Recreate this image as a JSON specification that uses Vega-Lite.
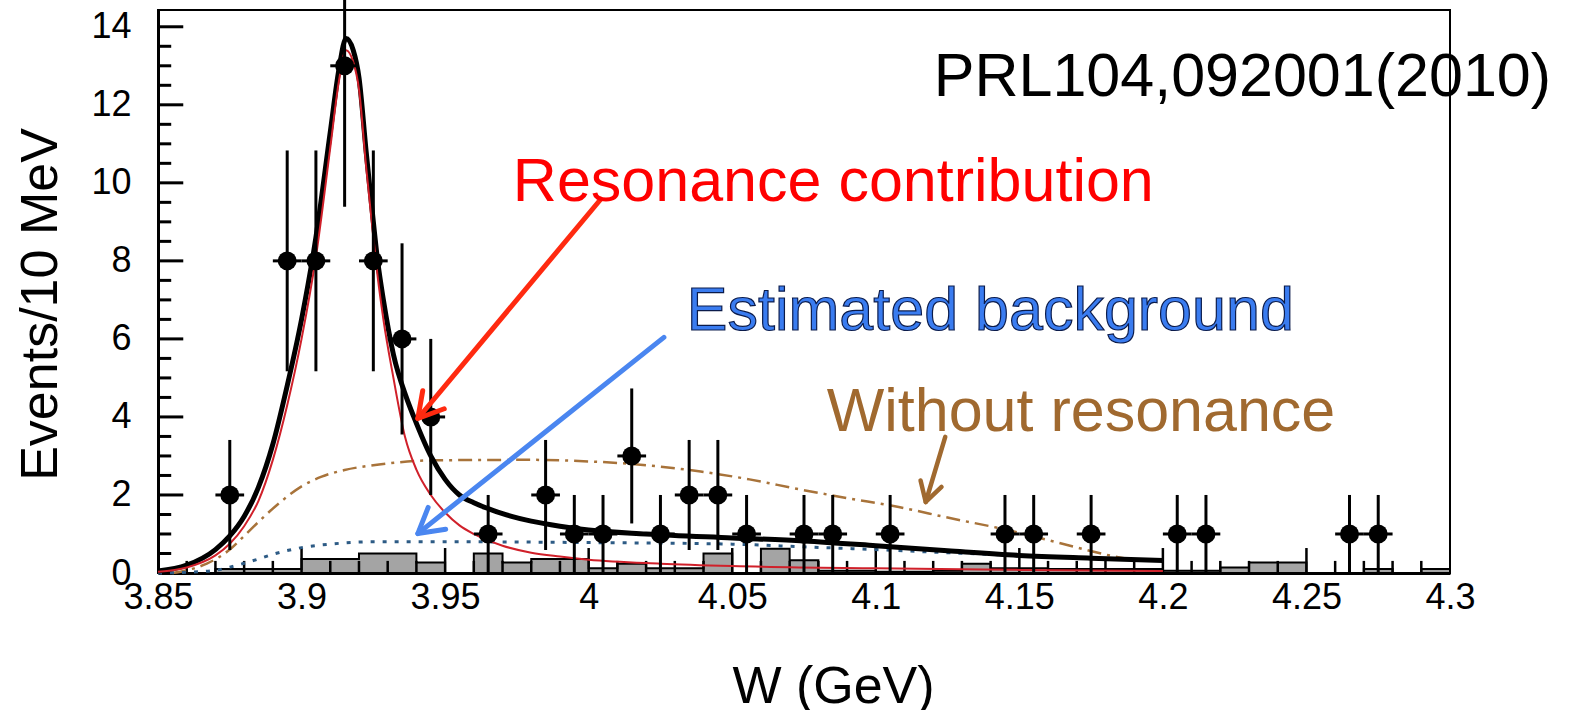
{
 "$schema": "https://vega.github.io/schema/vega-lite/v6.json",
 "width": 1292, "height": 563,
 "autosize": {"type": "none"},
 "padding": {"left": 158, "top": 10, "right": 128, "bottom": 137},
 "background": "white",
 "config": {"view": {"stroke": "black", "strokeWidth": 2}, "font": "Liberation Sans"},
 "datasets": {
  "hist": [
   {"W":3.85,"n":0},{"W":3.86,"n":0},{"W":3.87,"n":0.1},{"W":3.88,"n":0.1},{"W":3.89,"n":0.1},
   {"W":3.90,"n":0.36},{"W":3.91,"n":0.36},{"W":3.92,"n":0.5},{"W":3.93,"n":0.5},{"W":3.94,"n":0.27},
   {"W":3.95,"n":0},{"W":3.96,"n":0.5},{"W":3.97,"n":0.27},{"W":3.98,"n":0.36},{"W":3.99,"n":0.36},
   {"W":4.00,"n":0.12},{"W":4.01,"n":0.24},{"W":4.02,"n":0.12},{"W":4.03,"n":0.12},{"W":4.04,"n":0.5},
   {"W":4.05,"n":0},{"W":4.06,"n":0.62},{"W":4.07,"n":0.33},{"W":4.08,"n":0.06},{"W":4.09,"n":0.06},
   {"W":4.10,"n":0.03},{"W":4.11,"n":0.03},{"W":4.12,"n":0.06},{"W":4.13,"n":0.24},{"W":4.14,"n":0.12},
   {"W":4.15,"n":0.12},{"W":4.16,"n":0.1},{"W":4.17,"n":0.1},{"W":4.18,"n":0.1},{"W":4.19,"n":0.1},
   {"W":4.20,"n":0.06},{"W":4.21,"n":0.06},{"W":4.22,"n":0.14},{"W":4.23,"n":0.27},{"W":4.24,"n":0.27},
   {"W":4.25,"n":0},{"W":4.26,"n":0},{"W":4.27,"n":0.1},{"W":4.28,"n":0},{"W":4.29,"n":0.1},{"W":4.30,"n":0.1}
  ],
  "xticks": [
   {"W":3.86,"b":0,"h":0.31},{"W":3.87,"b":0,"h":0.31},{"W":3.88,"b":0,"h":0.31},{"W":3.89,"b":0,"h":0.31},{"W":3.9,"b":0,"h":0.64},
   {"W":3.91,"b":0,"h":0.31},{"W":3.92,"b":0,"h":0.31},{"W":3.93,"b":0,"h":0.31},{"W":3.94,"b":0,"h":0.31},{"W":3.95,"b":0,"h":0.64},
   {"W":3.96,"b":0,"h":0.31},{"W":3.97,"b":0,"h":0.31},{"W":3.98,"b":0,"h":0.31},{"W":3.99,"b":0,"h":0.31},{"W":4.0,"b":0,"h":0.64},
   {"W":4.01,"b":0,"h":0.31},{"W":4.02,"b":0,"h":0.31},{"W":4.03,"b":0,"h":0.31},{"W":4.04,"b":0,"h":0.31},{"W":4.05,"b":0,"h":0.64},
   {"W":4.06,"b":0,"h":0.31},{"W":4.07,"b":0,"h":0.31},{"W":4.08,"b":0,"h":0.31},{"W":4.09,"b":0,"h":0.31},{"W":4.1,"b":0,"h":0.64},
   {"W":4.11,"b":0,"h":0.31},{"W":4.12,"b":0,"h":0.31},{"W":4.13,"b":0,"h":0.31},{"W":4.14,"b":0,"h":0.31},{"W":4.15,"b":0,"h":0.64},
   {"W":4.16,"b":0,"h":0.31},{"W":4.17,"b":0,"h":0.31},{"W":4.18,"b":0,"h":0.31},{"W":4.19,"b":0,"h":0.31},{"W":4.2,"b":0,"h":0.64},
   {"W":4.21,"b":0,"h":0.31},{"W":4.22,"b":0,"h":0.31},{"W":4.23,"b":0,"h":0.31},{"W":4.24,"b":0,"h":0.31},{"W":4.25,"b":0,"h":0.64},
   {"W":4.26,"b":0,"h":0.31},{"W":4.27,"b":0,"h":0.31},{"W":4.28,"b":0,"h":0.31},{"W":4.29,"b":0,"h":0.31}
  ],
  "yticks": [
   {"n":0.5,"wlo":3.8503,"whi":3.8546},{"n":1,"wlo":3.8503,"whi":3.8546},{"n":1.5,"wlo":3.8503,"whi":3.8546},{"n":2,"wlo":3.8503,"whi":3.8588},
   {"n":2.5,"wlo":3.8503,"whi":3.8546},{"n":3,"wlo":3.8503,"whi":3.8546},{"n":3.5,"wlo":3.8503,"whi":3.8546},{"n":4,"wlo":3.8503,"whi":3.8588},
   {"n":4.5,"wlo":3.8503,"whi":3.8546},{"n":5,"wlo":3.8503,"whi":3.8546},{"n":5.5,"wlo":3.8503,"whi":3.8546},{"n":6,"wlo":3.8503,"whi":3.8588},
   {"n":6.5,"wlo":3.8503,"whi":3.8546},{"n":7,"wlo":3.8503,"whi":3.8546},{"n":7.5,"wlo":3.8503,"whi":3.8546},{"n":8,"wlo":3.8503,"whi":3.8588},
   {"n":8.5,"wlo":3.8503,"whi":3.8546},{"n":9,"wlo":3.8503,"whi":3.8546},{"n":9.5,"wlo":3.8503,"whi":3.8546},{"n":10,"wlo":3.8503,"whi":3.8588},
   {"n":10.5,"wlo":3.8503,"whi":3.8546},{"n":11,"wlo":3.8503,"whi":3.8546},{"n":11.5,"wlo":3.8503,"whi":3.8546},{"n":12,"wlo":3.8503,"whi":3.8588},
   {"n":12.5,"wlo":3.8503,"whi":3.8546},{"n":13,"wlo":3.8503,"whi":3.8546},{"n":13.5,"wlo":3.8503,"whi":3.8546},{"n":14,"wlo":3.8503,"whi":3.8588}
  ],
  "curves": [
   {"c":"wo","W":3.855,"y":0.0},{"c":"wo","W":3.86,"y":0.07},{"c":"wo","W":3.867,"y":0.24},{"c":"wo","W":3.875,"y":0.6},
   {"c":"wo","W":3.88,"y":0.95},{"c":"wo","W":3.887,"y":1.45},{"c":"wo","W":3.894,"y":1.9},{"c":"wo","W":3.9,"y":2.22},
   {"c":"wo","W":3.907,"y":2.47},{"c":"wo","W":3.915,"y":2.64},{"c":"wo","W":3.927,"y":2.78},{"c":"wo","W":3.947,"y":2.89},
   {"c":"wo","W":3.98,"y":2.9},{"c":"wo","W":4.0,"y":2.86},{"c":"wo","W":4.014,"y":2.8},{"c":"wo","W":4.039,"y":2.6},
   {"c":"wo","W":4.056,"y":2.4},{"c":"wo","W":4.073,"y":2.15},{"c":"wo","W":4.09,"y":1.92},{"c":"wo","W":4.108,"y":1.69},
   {"c":"wo","W":4.125,"y":1.42},{"c":"wo","W":4.146,"y":1.1},{"c":"wo","W":4.165,"y":0.75},{"c":"wo","W":4.184,"y":0.41},
   {"c":"wo","W":4.19,"y":0.33},
   {"c":"bkg","W":3.85,"y":0.0},{"c":"bkg","W":3.86,"y":0.02},{"c":"bkg","W":3.87,"y":0.07},{"c":"bkg","W":3.875,"y":0.15},
   {"c":"bkg","W":3.88,"y":0.25},{"c":"bkg","W":3.885,"y":0.36},{"c":"bkg","W":3.89,"y":0.48},{"c":"bkg","W":3.9,"y":0.65},
   {"c":"bkg","W":3.91,"y":0.74},{"c":"bkg","W":3.925,"y":0.8},{"c":"bkg","W":3.95,"y":0.8},{"c":"bkg","W":4.0,"y":0.78},
   {"c":"bkg","W":4.05,"y":0.74},{"c":"bkg","W":4.075,"y":0.67},{"c":"bkg","W":4.1,"y":0.6},{"c":"bkg","W":4.125,"y":0.52},
   {"c":"bkg","W":4.15,"y":0.45},{"c":"bkg","W":4.175,"y":0.38},{"c":"bkg","W":4.2,"y":0.32},
   {"c":"tot","W":3.85,"y":0.05},{"c":"tot","W":3.86,"y":0.2},{"c":"tot","W":3.87,"y":0.6},{"c":"tot","W":3.875,"y":0.95},
   {"c":"tot","W":3.88,"y":1.45},{"c":"tot","W":3.885,"y":2.2},{"c":"tot","W":3.89,"y":3.3},{"c":"tot","W":3.895,"y":4.8},
   {"c":"tot","W":3.9,"y":6.5},{"c":"tot","W":3.905,"y":8.6},{"c":"tot","W":3.91,"y":11.3},{"c":"tot","W":3.913,"y":12.9},
   {"c":"tot","W":3.9155,"y":13.7},{"c":"tot","W":3.918,"y":13.4},{"c":"tot","W":3.92,"y":12.7},{"c":"tot","W":3.9225,"y":10.8},
   {"c":"tot","W":3.925,"y":9.0},{"c":"tot","W":3.9265,"y":8.0},{"c":"tot","W":3.9285,"y":7.0},{"c":"tot","W":3.932,"y":5.6},
   {"c":"tot","W":3.9365,"y":4.5},{"c":"tot","W":3.9391,"y":4.0},{"c":"tot","W":3.945,"y":3.0},{"c":"tot","W":3.95,"y":2.4},
   {"c":"tot","W":3.955,"y":2.0},{"c":"tot","W":3.96,"y":1.8},{"c":"tot","W":3.965,"y":1.65},{"c":"tot","W":3.97,"y":1.52},
   {"c":"tot","W":3.98,"y":1.33},{"c":"tot","W":3.99,"y":1.2},{"c":"tot","W":4.0,"y":1.1},{"c":"tot","W":4.02,"y":1.0},
   {"c":"tot","W":4.05,"y":0.9},{"c":"tot","W":4.075,"y":0.82},{"c":"tot","W":4.1,"y":0.7},{"c":"tot","W":4.125,"y":0.57},
   {"c":"tot","W":4.15,"y":0.45},{"c":"tot","W":4.175,"y":0.38},{"c":"tot","W":4.2,"y":0.32},
   {"c":"res","W":3.85,"y":0.03},{"c":"res","W":3.86,"y":0.14},{"c":"res","W":3.87,"y":0.45},{"c":"res","W":3.875,"y":0.75},
   {"c":"res","W":3.88,"y":1.2},{"c":"res","W":3.885,"y":1.85},{"c":"res","W":3.89,"y":2.9},{"c":"res","W":3.895,"y":4.3},
   {"c":"res","W":3.9,"y":6.0},{"c":"res","W":3.905,"y":8.1},{"c":"res","W":3.91,"y":10.9},{"c":"res","W":3.913,"y":12.6},
   {"c":"res","W":3.9155,"y":13.4},{"c":"res","W":3.918,"y":13.1},{"c":"res","W":3.92,"y":12.4},{"c":"res","W":3.9225,"y":10.4},
   {"c":"res","W":3.925,"y":8.6},{"c":"res","W":3.9265,"y":7.6},{"c":"res","W":3.9285,"y":6.5},{"c":"res","W":3.932,"y":5.0},
   {"c":"res","W":3.936,"y":3.5},{"c":"res","W":3.94,"y":2.65},{"c":"res","W":3.945,"y":2.0},{"c":"res","W":3.95,"y":1.55},
   {"c":"res","W":3.955,"y":1.22},{"c":"res","W":3.96,"y":1.0},{"c":"res","W":3.97,"y":0.7},{"c":"res","W":3.98,"y":0.52},
   {"c":"res","W":3.99,"y":0.42},{"c":"res","W":4.0,"y":0.34},{"c":"res","W":4.025,"y":0.24},{"c":"res","W":4.05,"y":0.18},
   {"c":"res","W":4.1,"y":0.12},{"c":"res","W":4.15,"y":0.08},{"c":"res","W":4.2,"y":0.05}
  ],
  "pts": [
   {"W":3.875,"n":2,"lo":0.59,"hi":3.41,"wlo":3.87,"whi":3.88},
   {"W":3.895,"n":8,"lo":5.17,"hi":10.83,"wlo":3.89,"whi":3.90},
   {"W":3.905,"n":8,"lo":5.17,"hi":10.83,"wlo":3.90,"whi":3.91},
   {"W":3.915,"n":13,"lo":9.39,"hi":16.61,"wlo":3.91,"whi":3.92},
   {"W":3.925,"n":8,"lo":5.17,"hi":10.83,"wlo":3.92,"whi":3.93},
   {"W":3.935,"n":6,"lo":3.55,"hi":8.45,"wlo":3.93,"whi":3.94},
   {"W":3.945,"n":4,"lo":2,"hi":6,"wlo":3.94,"whi":3.95},
   {"W":3.965,"n":1,"lo":0,"hi":2,"wlo":3.96,"whi":3.97},
   {"W":3.985,"n":2,"lo":0.59,"hi":3.41,"wlo":3.98,"whi":3.99},
   {"W":3.995,"n":1,"lo":0,"hi":2,"wlo":3.99,"whi":4.00},
   {"W":4.005,"n":1,"lo":0,"hi":2,"wlo":4.00,"whi":4.01},
   {"W":4.015,"n":3,"lo":1.27,"hi":4.73,"wlo":4.01,"whi":4.02},
   {"W":4.025,"n":1,"lo":0,"hi":2,"wlo":4.02,"whi":4.03},
   {"W":4.035,"n":2,"lo":0.59,"hi":3.41,"wlo":4.03,"whi":4.04},
   {"W":4.045,"n":2,"lo":0.59,"hi":3.41,"wlo":4.04,"whi":4.05},
   {"W":4.055,"n":1,"lo":0,"hi":2,"wlo":4.05,"whi":4.06},
   {"W":4.075,"n":1,"lo":0,"hi":2,"wlo":4.07,"whi":4.08},
   {"W":4.085,"n":1,"lo":0,"hi":2,"wlo":4.08,"whi":4.09},
   {"W":4.105,"n":1,"lo":0,"hi":2,"wlo":4.10,"whi":4.11},
   {"W":4.145,"n":1,"lo":0,"hi":2,"wlo":4.14,"whi":4.15},
   {"W":4.155,"n":1,"lo":0,"hi":2,"wlo":4.15,"whi":4.16},
   {"W":4.175,"n":1,"lo":0,"hi":2,"wlo":4.17,"whi":4.18},
   {"W":4.205,"n":1,"lo":0,"hi":2,"wlo":4.20,"whi":4.21},
   {"W":4.215,"n":1,"lo":0,"hi":2,"wlo":4.21,"whi":4.22},
   {"W":4.265,"n":1,"lo":0,"hi":2,"wlo":4.26,"whi":4.27},
   {"W":4.275,"n":1,"lo":0,"hi":2,"wlo":4.27,"whi":4.28}
  ],
  "arrows": [
   {"a":"res","s":"shaft","i":0,"W":4.0042,"y":9.58},{"a":"res","s":"shaft","i":1,"W":3.9405,"y":3.96},
   {"a":"res","s":"head","i":0,"W":3.9497,"y":4.21},{"a":"res","s":"head","i":1,"W":3.9405,"y":3.96},{"a":"res","s":"head","i":2,"W":3.9422,"y":4.67},
   {"a":"bkg","s":"shaft","i":0,"W":4.0262,"y":6.04},{"a":"bkg","s":"shaft","i":1,"W":3.9405,"y":1.01},
   {"a":"bkg","s":"head","i":0,"W":3.9502,"y":1.12},{"a":"bkg","s":"head","i":1,"W":3.9405,"y":1.01},{"a":"bkg","s":"head","i":2,"W":3.9441,"y":1.68},
   {"a":"wo","s":"shaft","i":0,"W":4.1242,"y":3.49},{"a":"wo","s":"shaft","i":1,"W":4.1174,"y":1.82},
   {"a":"wo","s":"head","i":0,"W":4.1229,"y":2.205},{"a":"wo","s":"head","i":1,"W":4.1174,"y":1.82},{"a":"wo","s":"head","i":2,"W":4.1156,"y":2.37}
  ],
  "labels": [
   {"k":"prl","t":"PRL104,092001(2010)","W":4.1202,"y":12.22},
   {"k":"res","t":"Resonance contribution","W":3.9736,"y":9.53},
   {"k":"bkg","t":"Estimated background","W":4.0342,"y":6.22},
   {"k":"wo","t":"Without resonance","W":4.0829,"y":3.63}
  ]
 },
 "layer": [
  {
   "data": {"name": "hist"},
   "mark": {"type": "area", "interpolate": "step-after", "fill": "#a4a4a4", "stroke": "black", "strokeWidth": 2},
   "encoding": {
    "x": {"field": "W", "type": "quantitative",
     "scale": {"domain": [3.85, 4.3], "nice": false, "zero": false},
     "axis": {
      "orient": "bottom",
      "values": [3.85,3.9,3.95,4.0,4.05,4.1,4.15,4.2,4.25,4.3],
      "format": "~g",
      "title": "W (GeV)",
      "titleFont": "Liberation Sans", "titleFontSize": 52, "titleFontWeight": "normal", "titleColor": "black",
      "titleX": 675, "titleY": 129, "titleAlign": "center", "titleBaseline": "alphabetic", "titleAngle": 0,
      "grid": false, "domainColor": "black", "domainWidth": 3,
      "ticks": false,
      "labelFont": "Liberation Sans", "labelFontSize": 36, "labelColor": "black",
      "labelPadding": 7, "labelOverlap": false, "labelFlush": false, "labelBound": false
     }
    },
    "y": {"field": "n", "type": "quantitative",
     "scale": {"domain": [0, 14.43], "nice": false},
     "axis": {
      "orient": "left",
      "values": [0,2,4,6,8,10,12,14],
      "format": "d",
      "title": "Events/10 MeV",
      "titleFont": "Liberation Sans", "titleFontSize": 52, "titleFontWeight": "normal", "titleColor": "black",
      "titleX": -118, "titleY": 294, "titleAngle": 270, "titleAlign": "center", "titleBaseline": "middle",
      "grid": false, "domainColor": "black", "domainWidth": 3,
      "ticks": false,
      "labelFont": "Liberation Sans", "labelFontSize": 36, "labelColor": "black",
      "labelPadding": 27, "labelOverlap": false, "labelFlush": false, "labelBound": false
     }
    }
   }
  },
  {
   "data": {"name": "xticks"},
   "mark": {"type": "rule", "color": "black", "strokeWidth": 2.5},
   "encoding": {"x": {"field": "W", "type": "quantitative"}, "y": {"field": "b", "type": "quantitative"}, "y2": {"field": "h"}}
  },
  {
   "data": {"name": "yticks"},
   "mark": {"type": "rule", "color": "#000000", "strokeWidth": 3, "opacity": 1},
   "encoding": {"x": {"field": "wlo", "type": "quantitative"}, "x2": {"field": "whi"}, "y": {"field": "n", "type": "quantitative"}}
  },
  {
   "data": {"name": "curves"},
   "transform": [{"filter": "datum.c == 'wo'"}],
   "mark": {"type": "line", "color": "#a8733a", "strokeWidth": 2.5, "strokeDash": [14, 6, 3, 6], "interpolate": "monotone"},
   "encoding": {"x": {"field": "W", "type": "quantitative"}, "y": {"field": "y", "type": "quantitative"}}
  },
  {
   "data": {"name": "curves"},
   "transform": [{"filter": "datum.c == 'bkg'"}],
   "mark": {"type": "line", "color": "#2d5b85", "strokeWidth": 3, "strokeDash": [4, 8], "interpolate": "monotone"},
   "encoding": {"x": {"field": "W", "type": "quantitative"}, "y": {"field": "y", "type": "quantitative"}}
  },
  {
   "data": {"name": "curves"},
   "transform": [{"filter": "datum.c == 'tot'"}],
   "mark": {"type": "line", "color": "black", "strokeWidth": 5, "interpolate": "monotone"},
   "encoding": {"x": {"field": "W", "type": "quantitative"}, "y": {"field": "y", "type": "quantitative"}}
  },
  {
   "data": {"name": "curves"},
   "transform": [{"filter": "datum.c == 'res'"}],
   "mark": {"type": "line", "color": "#d0202a", "strokeWidth": 2, "interpolate": "monotone"},
   "encoding": {"x": {"field": "W", "type": "quantitative"}, "y": {"field": "y", "type": "quantitative"}}
  },
  {
   "data": {"name": "pts"},
   "mark": {"type": "rule", "color": "black", "strokeWidth": 3},
   "encoding": {"x": {"field": "W", "type": "quantitative"}, "y": {"field": "lo", "type": "quantitative"}, "y2": {"field": "hi"}}
  },
  {
   "data": {"name": "pts"},
   "mark": {"type": "rule", "color": "black", "strokeWidth": 3},
   "encoding": {"x": {"field": "wlo", "type": "quantitative"}, "x2": {"field": "whi"}, "y": {"field": "n", "type": "quantitative"}}
  },
  {
   "data": {"name": "pts"},
   "mark": {"type": "point", "shape": "circle", "filled": true, "color": "black", "opacity": 1, "size": 360},
   "encoding": {"x": {"field": "W", "type": "quantitative"}, "y": {"field": "n", "type": "quantitative"}}
  },
  {
   "data": {"name": "arrows"},
   "transform": [{"filter": "datum.a == 'res'"}],
   "mark": {"type": "line", "color": "#ff2a10", "strokeWidth": 5, "strokeCap": "round", "strokeJoin": "round"},
   "encoding": {"x": {"field": "W", "type": "quantitative"}, "y": {"field": "y", "type": "quantitative"}, "detail": {"field": "s"}, "order": {"field": "i"}}
  },
  {
   "data": {"name": "arrows"},
   "transform": [{"filter": "datum.a == 'bkg'"}],
   "mark": {"type": "line", "color": "#4a86f0", "strokeWidth": 5, "strokeCap": "round", "strokeJoin": "round"},
   "encoding": {"x": {"field": "W", "type": "quantitative"}, "y": {"field": "y", "type": "quantitative"}, "detail": {"field": "s"}, "order": {"field": "i"}}
  },
  {
   "data": {"name": "arrows"},
   "transform": [{"filter": "datum.a == 'wo'"}],
   "mark": {"type": "line", "color": "#a0692f", "strokeWidth": 4.5, "strokeCap": "round", "strokeJoin": "round"},
   "encoding": {"x": {"field": "W", "type": "quantitative"}, "y": {"field": "y", "type": "quantitative"}, "detail": {"field": "s"}, "order": {"field": "i"}}
  },
  {
   "data": {"name": "labels"},
   "transform": [{"filter": "datum.k == 'prl'"}],
   "mark": {"type": "text", "align": "left", "baseline": "alphabetic", "font": "Liberation Sans", "fontSize": 61, "color": "black"},
   "encoding": {"x": {"field": "W", "type": "quantitative"}, "y": {"field": "y", "type": "quantitative"}, "text": {"field": "t"}}
  },
  {
   "data": {"name": "labels"},
   "transform": [{"filter": "datum.k == 'res'"}],
   "mark": {"type": "text", "align": "left", "baseline": "alphabetic", "font": "Liberation Sans", "fontSize": 61, "color": "#ff0000"},
   "encoding": {"x": {"field": "W", "type": "quantitative"}, "y": {"field": "y", "type": "quantitative"}, "text": {"field": "t"}}
  },
  {
   "data": {"name": "labels"},
   "transform": [{"filter": "datum.k == 'bkg'"}],
   "mark": {"type": "text", "align": "left", "baseline": "alphabetic", "font": "Liberation Sans", "fontSize": 61, "fill": "#3a7cf0", "stroke": "#0b1b4a", "strokeWidth": 1.2},
   "encoding": {"x": {"field": "W", "type": "quantitative"}, "y": {"field": "y", "type": "quantitative"}, "text": {"field": "t"}}
  },
  {
   "data": {"name": "labels"},
   "transform": [{"filter": "datum.k == 'wo'"}],
   "mark": {"type": "text", "align": "left", "baseline": "alphabetic", "font": "Liberation Sans", "fontSize": 61, "color": "#a0692f"},
   "encoding": {"x": {"field": "W", "type": "quantitative"}, "y": {"field": "y", "type": "quantitative"}, "text": {"field": "t"}}
  }
 ]
}
